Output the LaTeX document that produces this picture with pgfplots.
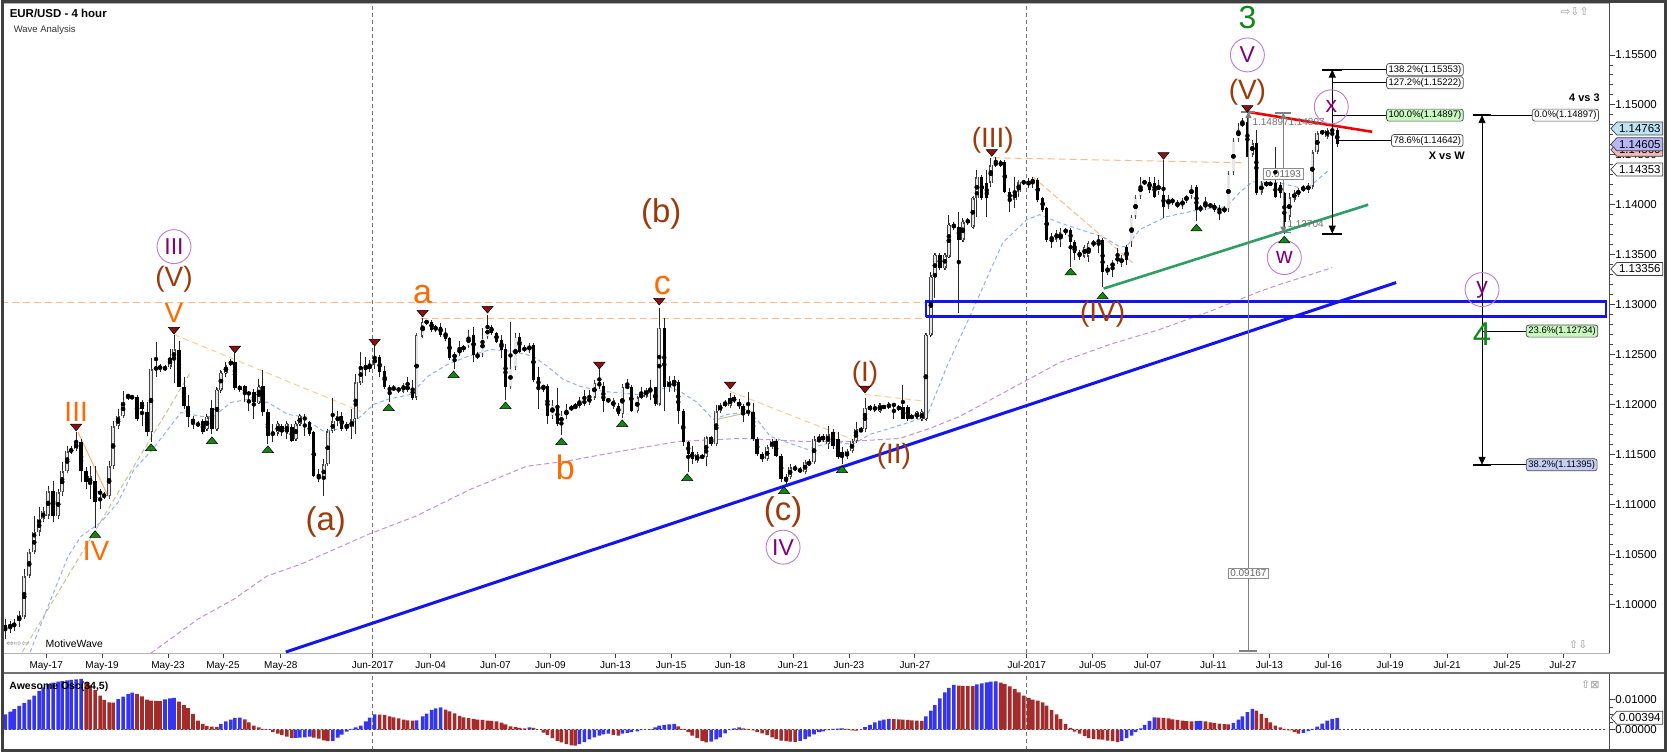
\documentclass[border=0pt]{standalone}
\usepackage{pgfplots}
\pgfplotsset{compat=1.18}
\usepackage{pgfplotstable}
\usepackage{fontspec}
\setmainfont{Liberation Sans}
\newfontfamily\symfont{DejaVu Sans}
\usetikzlibrary{arrows.meta}

\definecolor{wvorange}{HTML}{FF6A00}
\definecolor{wvbrown}{HTML}{9C3A0A}
\definecolor{wvpurple}{HTML}{800080}
\definecolor{wvcircle}{HTML}{C07ACF}
\definecolor{wvgreen}{HTML}{12881A}
\definecolor{maBlue}{HTML}{8FB0F5}
\definecolor{maPurple}{HTML}{C890D5}
\definecolor{peach}{HTML}{FFB98A}
\definecolor{peachlt}{HTML}{FFCB95}
\definecolor{khaki}{HTML}{C8C38E}
\definecolor{tline}{HTML}{1414F0}
\definecolor{gline}{HTML}{2E9E62}
\definecolor{oscBlue}{HTML}{3535F0}
\definecolor{oscRed}{HTML}{A52A2A}
\definecolor{tagBlue}{HTML}{BFE3F2}
\definecolor{tagLav}{HTML}{B7B7F7}
\definecolor{tagPink}{HTML}{F4B8B8}
\definecolor{fibGreen}{HTML}{C8F7C0}
\definecolor{fibBlue}{HTML}{C5CFF5}
\definecolor{bullEdge}{HTML}{454545}
\definecolor{bullFill}{HTML}{E6E6E6}
\definecolor{triGreen}{HTML}{118811}
\definecolor{triRed}{HTML}{8B1010}

\pgfplotstableread{
x o h l c
4 1.0979 1.0985 1.0965 1.0973
9 1.0977 1.0983 1.0971 1.0979
13 1.0979 1.0985 1.0973 1.0980
18 1.0983 1.0993 1.0977 1.0989
23 1.0987 1.1035 1.0985 1.1028
28 1.1028 1.1055 1.1027 1.1052
33 1.1052 1.1088 1.1050 1.1072
38 1.1072 1.1097 1.1068 1.1085
42 1.1085 1.1097 1.1082 1.1093
47 1.1088 1.1118 1.1085 1.1113
52 1.1113 1.1123 1.1082 1.1088
57 1.1088 1.1115 1.1085 1.1112
61 1.1112 1.1142 1.1108 1.1133
66 1.1133 1.1158 1.1132 1.1153
70 1.1153 1.1158 1.1150 1.1155
75 1.1155 1.1172 1.1153 1.1162
80 1.1162 1.1165 1.1122 1.1133
85 1.1133 1.1137 1.1115 1.1122
89 1.1120 1.1138 1.1105 1.1128
94 1.1123 1.1138 1.1076 1.1102
99 1.1113 1.1115 1.1095 1.1110
103 1.1110 1.1112 1.1105 1.1108
108 1.1108 1.1143 1.1105 1.1138
112 1.1138 1.1183 1.1135 1.1178
117 1.1178 1.1195 1.1175 1.1188
122 1.1188 1.1213 1.1187 1.1203
127 1.1208 1.1210 1.1205 1.1209
131 1.1207 1.1209 1.1205 1.1208
136 1.1207 1.1209 1.1183 1.1185
141 1.1203 1.1205 1.1178 1.1195
146 1.1192 1.1202 1.1168 1.1172
150 1.1172 1.1247 1.1162 1.1235
155 1.1235 1.1263 1.1228 1.1237
159 1.1236 1.1241 1.1233 1.1238
164 1.1236 1.1239 1.1233 1.1237
169 1.1238 1.1255 1.1235 1.1247
173 1.1245 1.1270 1.1222 1.1255
178 1.1255 1.1263 1.1217 1.1218
183 1.1218 1.1228 1.1195 1.1198
187 1.1198 1.1210 1.1177 1.1187
192 1.1185 1.1188 1.1175 1.1182
197 1.1181 1.1183 1.1177 1.1179
202 1.1183 1.1185 1.1170 1.1172
206 1.1175 1.1190 1.1173 1.1187
211 1.1197 1.1205 1.1170 1.1175
216 1.1175 1.1218 1.1173 1.1215
220 1.1215 1.1235 1.1212 1.1232
225 1.1232 1.1243 1.1228 1.1238
230 1.1243 1.1245 1.1238 1.1240
234 1.1243 1.1252 1.1215 1.1217
239 1.1218 1.1220 1.1213 1.1215
244 1.1218 1.1220 1.1203 1.1210
248 1.1212 1.1213 1.1193 1.1210
253 1.1212 1.1215 1.1185 1.1202
258 1.1202 1.1225 1.1200 1.1218
262 1.1218 1.1235 1.1188 1.1192
267 1.1192 1.1195 1.1160 1.1168
272 1.1172 1.1180 1.1162 1.1169
277 1.1172 1.1183 1.1168 1.1180
281 1.1178 1.1180 1.1168 1.1172
286 1.1172 1.1183 1.1165 1.1180
291 1.1177 1.1180 1.1162 1.1163
295 1.1165 1.1183 1.1163 1.1180
299 1.1180 1.1190 1.1178 1.1188
304 1.1187 1.1190 1.1168 1.1185
309 1.1182 1.1183 1.1168 1.1170
313 1.1172 1.1173 1.1127 1.1128
318 1.1129 1.1135 1.1122 1.1125
323 1.1125 1.1145 1.1108 1.1140
327 1.1140 1.1175 1.1138 1.1173
332 1.1173 1.1207 1.1172 1.1183
337 1.1183 1.1193 1.1178 1.1188
341 1.1188 1.1192 1.1173 1.1175
346 1.1177 1.1182 1.1173 1.1180
351 1.1177 1.1195 1.1165 1.1185
355 1.1185 1.1230 1.1170 1.1222
360 1.1222 1.1253 1.1220 1.1238
365 1.1238 1.1247 1.1228 1.1235
369 1.1235 1.1245 1.1233 1.1240
374 1.1240 1.1258 1.1235 1.1247
379 1.1247 1.1250 1.1228 1.1232
384 1.1233 1.1238 1.1215 1.1217
389 1.1218 1.1220 1.1203 1.1213
393 1.1217 1.1219 1.1213 1.1215
398 1.1216 1.1218 1.1212 1.1214
403 1.1213 1.1222 1.1212 1.1220
407 1.1215 1.1228 1.1213 1.1218
412 1.1217 1.1225 1.1205 1.1207
416 1.1207 1.1272 1.1205 1.1270
422 1.1268 1.1287 1.1267 1.1283
426 1.1283 1.1285 1.1280 1.1282
431 1.1283 1.1285 1.1273 1.1275
435 1.1277 1.1280 1.1273 1.1275
440 1.1278 1.1282 1.1268 1.1270
445 1.1272 1.1277 1.1263 1.1265
449 1.1267 1.1268 1.1245 1.1247
454 1.1247 1.1253 1.1236 1.1250
459 1.1250 1.1263 1.1248 1.1257
463 1.1255 1.1260 1.1253 1.1258
468 1.1258 1.1275 1.1257 1.1270
473 1.1270 1.1278 1.1243 1.1250
477 1.1250 1.1252 1.1245 1.1248
482 1.1250 1.1277 1.1248 1.1267
487 1.1267 1.1290 1.1265 1.1278
491 1.1278 1.1280 1.1270 1.1272
496 1.1272 1.1273 1.1262 1.1263
501 1.1265 1.1270 1.1247 1.1255
505 1.1255 1.1260 1.1204 1.1217
510 1.1217 1.1283 1.1215 1.1237
515 1.1237 1.1272 1.1235 1.1268
519 1.1268 1.1272 1.1252 1.1253
524 1.1257 1.1259 1.1252 1.1254
529 1.1253 1.1262 1.1252 1.1260
533 1.1260 1.1262 1.1223 1.1225
538 1.1227 1.1238 1.1195 1.1217
543 1.1218 1.1220 1.1213 1.1217
547 1.1218 1.1220 1.1180 1.1188
552 1.1188 1.1205 1.1185 1.1200
557 1.1200 1.1217 1.1178 1.1180
561 1.1180 1.1193 1.1169 1.1190
566 1.1188 1.1200 1.1185 1.1195
571 1.1197 1.1200 1.1193 1.1195
575 1.1198 1.1202 1.1195 1.1197
579 1.1198 1.1207 1.1197 1.1203
584 1.1203 1.1215 1.1198 1.1202
589 1.1202 1.1215 1.1200 1.1207
594 1.1207 1.1225 1.1205 1.1222
599 1.1222 1.1235 1.1215 1.1218
603 1.1218 1.1222 1.1192 1.1203
608 1.1205 1.1207 1.1202 1.1203
613 1.1197 1.1207 1.1195 1.1205
618 1.1198 1.1202 1.1188 1.1190
622 1.1190 1.1220 1.1186 1.1218
627 1.1218 1.1225 1.1215 1.1217
631 1.1218 1.1220 1.1192 1.1193
637 1.1193 1.1209 1.1192 1.1207
641 1.1207 1.1217 1.1205 1.1210
646 1.1208 1.1217 1.1207 1.1215
650 1.1213 1.1225 1.1205 1.1215
655 1.1217 1.1218 1.1198 1.1200
659 1.1200 1.1297 1.1198 1.1277
664 1.1277 1.1287 1.1193 1.1217
669 1.1217 1.1228 1.1212 1.1223
674 1.1220 1.1228 1.1212 1.1225
678 1.1223 1.1225 1.1180 1.1193
683 1.1193 1.1195 1.1158 1.1162
688 1.1162 1.1163 1.1132 1.1150
692 1.1152 1.1158 1.1140 1.1145
697 1.1143 1.1152 1.1142 1.1150
702 1.1148 1.1150 1.1145 1.1147
706 1.1147 1.1168 1.1138 1.1167
711 1.1167 1.1168 1.1158 1.1160
716 1.1160 1.1200 1.1158 1.1193
720 1.1193 1.1202 1.1192 1.1200
725 1.1202 1.1205 1.1197 1.1199
730 1.1198 1.1212 1.1197 1.1207
734 1.1207 1.1209 1.1201 1.1203
739 1.1203 1.1205 1.1195 1.1198
743 1.1198 1.1200 1.1182 1.1192
748 1.1193 1.1213 1.1188 1.1192
753 1.1192 1.1202 1.1163 1.1165
757 1.1165 1.1167 1.1148 1.1150
762 1.1150 1.1152 1.1142 1.1145
767 1.1145 1.1159 1.1143 1.1157
772 1.1157 1.1165 1.1156 1.1163
776 1.1163 1.1165 1.1147 1.1148
781 1.1148 1.1150 1.1122 1.1125
786 1.1127 1.1130 1.1119 1.1124
790 1.1127 1.1140 1.1125 1.1137
795 1.1137 1.1139 1.1133 1.1135
800 1.1135 1.1137 1.1131 1.1133
805 1.1132 1.1144 1.1131 1.1142
809 1.1140 1.1145 1.1138 1.1142
814 1.1142 1.1168 1.1140 1.1165
819 1.1165 1.1170 1.1162 1.1163
823 1.1165 1.1170 1.1162 1.1168
828 1.1160 1.1178 1.1155 1.1170
833 1.1172 1.1175 1.1155 1.1158
838 1.1165 1.1172 1.1145 1.1147
842 1.1152 1.1157 1.1140 1.1147
847 1.1148 1.1155 1.1145 1.1153
852 1.1153 1.1165 1.1152 1.1163
856 1.1163 1.1182 1.1162 1.1175
861 1.1175 1.1177 1.1172 1.1173
865 1.1175 1.1207 1.1172 1.1197
870 1.1198 1.1200 1.1193 1.1195
875 1.1197 1.1200 1.1192 1.1195
880 1.1193 1.1202 1.1192 1.1200
884 1.1198 1.1200 1.1195 1.1197
889 1.1200 1.1203 1.1195 1.1197
894 1.1200 1.1202 1.1185 1.1199
899 1.1197 1.1200 1.1193 1.1196
903 1.1198 1.1220 1.1185 1.1185
908 1.1197 1.1200 1.1183 1.1185
912 1.1188 1.1190 1.1185 1.1187
917 1.1187 1.1193 1.1185 1.1192
922 1.1185 1.1195 1.1183 1.1192
926 1.1185 1.1272 1.1184 1.1270
931 1.1270 1.1333 1.1268 1.1328
935 1.1328 1.1352 1.1307 1.1350
940 1.1350 1.1352 1.1335 1.1337
945 1.1337 1.1352 1.1335 1.1350
949 1.1348 1.1390 1.1347 1.1380
954 1.1380 1.1383 1.1375 1.1377
959 1.1378 1.1393 1.1292 1.1365
963 1.1365 1.1387 1.1363 1.1383
968 1.1385 1.1387 1.1380 1.1382
973 1.1378 1.1408 1.1377 1.1407
977 1.1407 1.1435 1.1388 1.1428
982 1.1428 1.1430 1.1405 1.1407
987 1.1422 1.1435 1.1388 1.1407
991 1.1422 1.1447 1.1418 1.1440
996 1.1442 1.1448 1.1438 1.1440
1001 1.1442 1.1445 1.1438 1.1440
1005 1.1443 1.1445 1.1412 1.1413
1010 1.1413 1.1417 1.1393 1.1405
1015 1.1405 1.1428 1.1397 1.1413
1019 1.1413 1.1425 1.1408 1.1423
1024 1.1423 1.1425 1.1420 1.1422
1029 1.1423 1.1427 1.1417 1.1420
1033 1.1422 1.1428 1.1417 1.1425
1038 1.1425 1.1427 1.1403 1.1405
1043 1.1407 1.1408 1.1393 1.1395
1047 1.1397 1.1398 1.1363 1.1365
1052 1.1368 1.1372 1.1357 1.1365
1057 1.1365 1.1375 1.1363 1.1372
1061 1.1365 1.1377 1.1358 1.1373
1066 1.1375 1.1377 1.1370 1.1373
1071 1.1375 1.1377 1.1338 1.1363
1075 1.1363 1.1365 1.1345 1.1352
1080 1.1353 1.1355 1.1345 1.1348
1085 1.1348 1.1360 1.1347 1.1358
1089 1.1348 1.1363 1.1343 1.1362
1094 1.1362 1.1365 1.1358 1.1360
1099 1.1365 1.1370 1.1352 1.1362
1103 1.1365 1.1367 1.1318 1.1333
1108 1.1332 1.1340 1.1330 1.1337
1113 1.1337 1.1345 1.1328 1.1343
1118 1.1343 1.1357 1.1342 1.1348
1122 1.1340 1.1350 1.1338 1.1348
1127 1.1358 1.1360 1.1340 1.1345
1132 1.1362 1.1390 1.1358 1.1388
1136 1.1388 1.1410 1.1387 1.1408
1141 1.1408 1.1428 1.1407 1.1422
1145 1.1423 1.1425 1.1420 1.1422
1150 1.1423 1.1428 1.1412 1.1415
1155 1.1422 1.1428 1.1407 1.1408
1159 1.1412 1.1425 1.1410 1.1422
1164 1.1410 1.1445 1.1387 1.1398
1169 1.1398 1.1410 1.1397 1.1407
1173 1.1405 1.1407 1.1400 1.1403
1178 1.1398 1.1405 1.1397 1.1402
1183 1.1398 1.1407 1.1397 1.1405
1187 1.1405 1.1410 1.1402 1.1408
1192 1.1408 1.1420 1.1407 1.1418
1197 1.1418 1.1420 1.1384 1.1395
1201 1.1397 1.1400 1.1393 1.1395
1206 1.1397 1.1408 1.1395 1.1402
1211 1.1400 1.1402 1.1397 1.1398
1215 1.1400 1.1402 1.1393 1.1395
1220 1.1397 1.1400 1.1385 1.1393
1225 1.1393 1.1398 1.1392 1.1397
1229 1.1395 1.1433 1.1393 1.1432
1234 1.1432 1.1467 1.1430 1.1465
1239 1.1465 1.1482 1.1463 1.1477
1243 1.1480 1.1487 1.1478 1.1482
1248 1.1483 1.1490 1.1448 1.1448
1253 1.1450 1.1465 1.1448 1.1462
1257 1.1462 1.1475 1.1410 1.1412
1262 1.1412 1.1423 1.1410 1.1422
1267 1.1420 1.1424 1.1418 1.1422
1271 1.1422 1.1423 1.1419 1.1420
1276 1.1422 1.1458 1.1407 1.1408
1281 1.1420 1.1423 1.1407 1.1412
1285 1.1412 1.1413 1.1371 1.1383
1290 1.1388 1.1412 1.1385 1.1408
1295 1.1405 1.1415 1.1403 1.1413
1299 1.1410 1.1417 1.1408 1.1415
1304 1.1415 1.1420 1.1413 1.1417
1309 1.1415 1.1422 1.1412 1.1419
1313 1.1418 1.1455 1.1417 1.1453
1318 1.1453 1.1474 1.1451 1.1472
1323 1.1472 1.1475 1.1470 1.1473
1328 1.1468 1.1477 1.1467 1.1475
1333 1.1474 1.1477 1.1465 1.1475
1338 1.1475 1.1477 1.1458 1.1461
}\candles

\pgfplotstableread{
x v u
4 0.0051 1
9 0.0060 1
13 0.0068 1
18 0.0079 1
23 0.0089 1
28 0.0100 1
33 0.0113 1
38 0.0129 1
42 0.0141 1
47 0.0151 1
52 0.0157 1
57 0.0160 1
61 0.0162 1
66 0.0164 1
70 0.0166 1
75 0.0168 1
80 0.0169 1
85 0.0158 0
89 0.0149 0
94 0.0133 0
99 0.0113 0
103 0.0099 0
108 0.0091 0
112 0.0090 0
117 0.0102 1
122 0.0110 1
127 0.0118 1
131 0.0123 1
136 0.0119 0
141 0.0111 0
146 0.0100 0
150 0.0097 0
155 0.0096 0
159 0.0095 0
164 0.0101 1
169 0.0104 1
173 0.0106 1
178 0.0093 0
183 0.0082 0
187 0.0072 0
192 0.0052 0
197 0.0030 0
202 0.0019 0
206 0.0012 0
211 0.0010 0
216 0.0009 0
220 0.0019 1
225 0.0027 1
230 0.0033 1
234 0.0039 1
239 0.0040 1
244 0.0034 0
248 0.0024 0
253 0.0013 0
258 0.0007 0
262 0.0002 0
267 -0.0001 0
272 -0.0009 0
277 -0.0014 0
281 -0.0019 0
286 -0.0024 0
291 -0.0029 0
295 -0.0028 1
299 -0.0027 1
304 -0.0026 1
309 -0.0024 1
313 -0.0027 0
318 -0.0030 0
323 -0.0036 0
327 -0.0039 0
332 -0.0038 1
337 -0.0027 1
341 -0.0017 1
346 -0.0007 1
351 0.0002 1
355 0.0007 1
360 0.0013 1
365 0.0027 1
369 0.0040 1
374 0.0051 1
379 0.0050 0
384 0.0049 0
389 0.0044 0
393 0.0041 0
398 0.0037 0
403 0.0033 0
407 0.0031 0
412 0.0030 0
416 0.0031 1
422 0.0044 1
426 0.0053 1
431 0.0066 1
435 0.0071 1
440 0.0074 1
445 0.0067 0
449 0.0061 0
454 0.0054 0
459 0.0046 0
463 0.0041 0
468 0.0038 0
473 0.0036 0
477 0.0033 0
482 0.0032 0
487 0.0030 0
491 0.0029 0
496 0.0027 0
501 0.0023 0
505 0.0017 0
510 0.0011 0
515 0.0008 0
519 0.0006 0
524 0.0004 0
529 0.0007 1
533 0.0006 0
538 0.0000 0
543 -0.0010 0
547 -0.0018 0
552 -0.0029 0
557 -0.0038 0
561 -0.0043 0
566 -0.0049 0
571 -0.0053 0
575 -0.0054 0
579 -0.0049 1
584 -0.0042 1
589 -0.0033 1
594 -0.0026 1
599 -0.0020 1
603 -0.0016 1
608 -0.0014 1
613 -0.0018 0
618 -0.0020 0
622 -0.0014 1
627 -0.0011 1
631 -0.0009 1
637 -0.0006 1
641 -0.0002 1
646 0.0000 1
650 0.0001 1
655 0.0007 1
659 0.0013 1
664 0.0016 1
669 0.0017 1
674 0.0019 1
678 0.0011 0
683 0.0002 0
688 -0.0009 0
692 -0.0020 0
697 -0.0029 0
702 -0.0038 0
706 -0.0043 0
711 -0.0040 1
716 -0.0033 1
720 -0.0026 1
725 -0.0013 1
730 -0.0002 1
734 0.0004 1
739 0.0007 1
743 0.0004 0
748 0.0002 0
753 -0.0003 0
757 -0.0009 0
762 -0.0013 0
767 -0.0019 0
772 -0.0026 0
776 -0.0032 0
781 -0.0037 0
786 -0.0039 0
790 -0.0040 0
795 -0.0041 0
800 -0.0038 1
805 -0.0032 1
809 -0.0024 1
814 -0.0016 1
819 -0.0009 1
823 -0.0006 1
828 -0.0002 1
833 0.0002 1
838 0.0003 1
842 0.0004 1
847 0.0002 0
852 -0.0003 0
856 -0.0004 0
861 0.0000 1
865 0.0008 1
870 0.0016 1
875 0.0024 1
880 0.0030 1
884 0.0033 1
889 0.0036 1
894 0.0035 0
899 0.0034 0
903 0.0033 0
908 0.0032 0
912 0.0031 0
917 0.0030 0
922 0.0029 0
926 0.0044 1
931 0.0063 1
935 0.0082 1
940 0.0104 1
945 0.0124 1
949 0.0139 1
954 0.0149 1
959 0.0147 0
963 0.0146 0
968 0.0146 0
973 0.0145 0
977 0.0151 1
982 0.0154 1
987 0.0158 1
991 0.0160 1
996 0.0161 1
1001 0.0157 0
1005 0.0152 0
1010 0.0144 0
1015 0.0136 0
1019 0.0124 0
1024 0.0113 0
1029 0.0106 0
1033 0.0100 0
1038 0.0097 0
1043 0.0091 0
1047 0.0080 0
1052 0.0066 0
1057 0.0051 0
1061 0.0036 0
1066 0.0019 0
1071 0.0006 0
1075 -0.0007 0
1080 -0.0014 0
1085 -0.0022 0
1089 -0.0029 0
1094 -0.0032 0
1099 -0.0033 0
1103 -0.0034 0
1108 -0.0037 0
1113 -0.0039 0
1118 -0.0042 0
1122 -0.0038 1
1127 -0.0029 1
1132 -0.0020 1
1136 -0.0009 1
1141 0.0004 1
1145 0.0016 1
1150 0.0029 1
1155 0.0041 1
1159 0.0040 0
1164 0.0039 0
1169 0.0037 0
1173 0.0034 0
1178 0.0032 0
1183 0.0030 0
1187 0.0028 0
1192 0.0027 0
1197 0.0028 1
1201 0.0029 1
1206 0.0027 0
1211 0.0024 0
1215 0.0022 0
1220 0.0020 0
1225 0.0018 0
1229 0.0017 0
1234 0.0022 1
1239 0.0033 1
1243 0.0044 1
1248 0.0058 1
1253 0.0069 1
1257 0.0063 0
1262 0.0052 0
1267 0.0038 0
1271 0.0024 0
1276 0.0013 0
1281 0.0007 0
1285 0.0002 0
1290 -0.0003 0
1295 -0.0009 0
1299 -0.0014 0
1304 -0.0011 1
1309 -0.0005 1
1313 0.0002 1
1318 0.0010 1
1323 0.0020 1
1328 0.0030 1
1333 0.0036 1
1338 0.0039 1
}\osc

\newcommand\fs[1]{\fontsize{#1}{#1}\selectfont}

\tikzset{
  wl/.style={inner sep=0pt},
  circ/.style={circle, draw=wvcircle, line width=0.9pt, minimum size=34pt, inner sep=0pt, text=wvpurple, font=\fs{23}},
  fib/.style={draw=black!70, line width=0.7pt, rounded corners=2.5pt, inner xsep=2pt, inner ysep=1.6pt, font=\fs{9.5}, anchor=west},
  mbox/.style={draw=black!45, fill=white, line width=0.7pt, inner xsep=2pt, inner ysep=1.6pt, font=\fs{10}, text=black!60},
}

\newcommand\ptag[3]{%
  \draw[draw=black!75, line width=0.7pt, fill=#2] (axis cs:1612,#1) -- ++(6pt,6.5pt) -- ++(46pt,0pt) -- ++(0pt,-13pt) -- ++(-46pt,0pt) -- cycle;
  \node[font=\fs{11.5}, anchor=west, inner sep=0pt] at ([xshift=8pt]axis cs:1612,#1) {#3};}

\begin{document}
\begin{tikzpicture}
\path[fill=white] (0pt,0pt) rectangle (1668pt,-753pt);

% ================= PRICE PANEL =================
\begin{axis}[
  at={(0pt,-654pt)}, anchor=south west, scale only axis,
  width=1611pt, height=651pt,
  xmin=0, xmax=1611, ymin=1.0951, ymax=1.1602,
  clip=false,
  axis line style={draw=black!30, line width=0.8pt},
  tick align=outside, xtick pos=left, ytick pos=right, yticklabel pos=right,
  major tick length=5pt, minor tick length=3pt,
  tick style={black!75, line width=0.8pt},
  scaled y ticks=false,
  xtick={45,101,167,222,280,372,430,495,550,615,671,730,793,849,915,1027,1093,1148,1214,1270,1329,1391,1448,1508,1564},
  xticklabels={May-17,May-19,May-23,May-25,May-28,Jun-2017,Jun-04,Jun-07,Jun-09,Jun-13,Jun-15,Jun-18,Jun-21,Jun-23,Jun-27,Jul-2017,Jul-05,Jul-07,Jul-11,Jul-13,Jul-16,Jul-19,Jul-21,Jul-25,Jul-27},
  ytick={1.100,1.105,1.110,1.115,1.120,1.125,1.130,1.135,1.140,1.145,1.150,1.155},
  yticklabels={1.10000,1.10500,1.11000,1.11500,1.12000,1.12500,1.13000,1.13500,1.14000,1.14500,1.15000,1.15500},
  minor y tick num=4,
  x tick label style={font=\fs{10}},
  y tick label style={font=\fs{11.5}, xshift=-3pt},
]
% month separators
\addplot[black!55, line width=0.9pt, dash pattern=on 4pt off 3pt] coordinates {(372,1.0951) (372,1.1602)};
\addplot[black!55, line width=0.9pt, dash pattern=on 4pt off 3pt] coordinates {(1027,1.0951) (1027,1.1602)};

% orange / peach dashed structure lines
\addplot[peach, line width=1.1pt, dash pattern=on 7pt off 4pt] coordinates {(0,1.1302) (926,1.1302)};
\addplot[peach, line width=1.1pt, dash pattern=on 7pt off 4pt] coordinates {(420,1.1286) (926,1.1286)};
\addplot[peachlt, line width=1pt, dash pattern=on 6pt off 4pt] coordinates {(173,1.1270) (360,1.1193)};
\addplot[peach!80!orange, line width=1pt] coordinates {(77,1.1172) (107,1.1108)};
\addplot[peachlt, line width=1pt, dash pattern=on 6pt off 4pt] coordinates {(730,1.1213) (860,1.1162)};
\addplot[peachlt, line width=1pt, dash pattern=on 6pt off 4pt] coordinates {(865,1.1210) (927,1.1203)};
\addplot[peach, line width=1pt, dash pattern=on 7pt off 4pt] coordinates {(993,1.1447) (1242,1.1442)};
\addplot[peach, line width=1pt, dash pattern=on 6pt off 3pt] coordinates {(1033,1.1428) (1133,1.1342)};
\addplot[khaki, line width=1pt] coordinates {(717,1.1185) (753,1.1193)};
\addplot[khaki, line width=1pt, dash pattern=on 5pt off 3pt] coordinates {(21,1.0952) (190,1.1233)};

% moving averages
\addplot[maBlue, line width=1pt, dash pattern=on 4pt off 3pt] coordinates {
(29,1.0952) (43,1.0988) (67,1.1048) (80,1.1068) (100,1.1082) (117,1.1102) (133,1.1135) (150,1.1153) (167,1.1175) (180,1.1192) (200,1.1188) (213,1.1188) (230,1.1202) (247,1.1205) (267,1.1202) (287,1.1190) (300,1.1188) (323,1.1173) (347,1.1177) (360,1.1188) (373,1.1200) (387,1.1205) (410,1.1210) (427,1.1228) (447,1.1240) (467,1.1248) (490,1.1255) (513,1.1253) (533,1.1248) (547,1.1238) (563,1.1225) (580,1.1218) (603,1.1213) (637,1.1210) (657,1.1215) (670,1.1217) (680,1.1213) (697,1.1202) (713,1.1185) (727,1.1190) (747,1.1192) (757,1.1185) (770,1.1168) (787,1.1162) (807,1.1155) (823,1.1160) (837,1.1162) (853,1.1160) (870,1.1170) (880,1.1173) (903,1.1180) (927,1.1188) (947,1.1238) (970,1.1288) (1003,1.1362) (1027,1.1385) (1040,1.1390) (1060,1.1382) (1087,1.1373) (1103,1.1368) (1120,1.1358) (1127,1.1358) (1140,1.1375) (1167,1.1388) (1200,1.1395) (1227,1.1398) (1240,1.1412) (1253,1.1423) (1280,1.1422) (1300,1.1417) (1310,1.1418) (1330,1.1435)};
\addplot[maPurple, line width=1pt, dash pattern=on 5pt off 3pt] coordinates {
(150,1.0951) (197,1.0985) (233,1.1005) (266,1.1028) (300,1.1040) (368,1.1070) (415,1.1088) (470,1.1115) (526,1.1138) (565,1.1143) (620,1.1153) (679,1.1163) (742,1.1166) (801,1.1163) (852,1.1163) (900,1.1166) (930,1.1176) (960,1.1188) (1010,1.1215) (1060,1.1242) (1110,1.1260) (1160,1.1275) (1210,1.1293) (1260,1.1313) (1280,1.1320) (1333,1.1337)};

% ---- candles ----
\addplot[only marks, mark=none, forget plot,
  error bars/.cd, y dir=both, y explicit, error mark=none,
  error bar style={line width=0.9pt, draw=black!85}]
  table[x=x, y expr={(\thisrow{h}+\thisrow{l})/2}, y error expr={(\thisrow{h}-\thisrow{l})/2}] {\candles};
\addplot[only marks, mark=none, forget plot,
  restrict expr to domain={\thisrow{o}-\thisrow{c}}{0:1},
  error bars/.cd, y dir=both, y explicit, error mark=none,
  error bar style={line width=3.4pt, draw=black}]
  table[x=x, y expr={(\thisrow{o}+\thisrow{c})/2}, y error expr={max(abs(\thisrow{o}-\thisrow{c})/2,0.00007)}] {\candles};
\addplot[only marks, mark=none, forget plot,
  restrict expr to domain={\thisrow{c}-\thisrow{o}}{0:1},
  error bars/.cd, y dir=both, y explicit, error mark=none,
  error bar style={line width=3.6pt, draw=bullEdge}]
  table[x=x, y expr={(\thisrow{o}+\thisrow{c})/2}, y error expr={max(abs(\thisrow{o}-\thisrow{c})/2,0.00007)}] {\candles};
\addplot[only marks, mark=none, forget plot,
  restrict expr to domain={\thisrow{c}-\thisrow{o}}{0.00015:1},
  error bars/.cd, y dir=both, y explicit, error mark=-,
  error mark options={draw=bullEdge, line width=0.6pt, mark size=1.8pt},
  error bar style={line width=2.2pt, draw=bullFill}]
  table[x=x, y expr={(\thisrow{o}+\thisrow{c})/2}, y error expr={abs(\thisrow{o}-\thisrow{c})/2}] {\candles};

% swing markers
\addplot[only marks, mark=triangle*, mark size=4.5pt, mark options={xscale=1.45, fill=triGreen, draw=black, line width=0.5pt}] coordinates {
(94,1.1069) (150,1.1156) (211,1.1163) (267,1.1154) (388,1.1196) (453,1.1229) (505,1.1198) (561,1.1162) (622,1.1180) (687,1.1126) (784,1.1113) (842,1.1134) (1071,1.1332) (1103,1.1308) (1197,1.1376) (1285,1.1364)};
\addplot[only marks, mark=triangle*, mark size=4.5pt, mark options={rotate=180, xscale=1.45, fill=triRed, draw=black, line width=0.5pt}] coordinates {
(75,1.1178) (173,1.1275) (234,1.1256) (374,1.1263) (422,1.1292) (487,1.1296) (599,1.1240) (659,1.1304) (730,1.1220) (865,1.1216) (992,1.1453) (1164,1.1450) (1248,1.1497)};

% trend lines
\addplot[tline, line width=3pt] coordinates {(285,1.0952) (1397,1.1322)};
\addplot[gline, line width=2.6pt] coordinates {(1104,1.1316) (1369,1.1400)};
\addplot[red!95!black, line width=2.6pt] coordinates {(1248,1.1493) (1373,1.1473)};
\addplot[tline, line width=2.4pt] coordinates {(926,1.1288) (1607,1.1288) (1607,1.1303) (926,1.1303) (926,1.1288)};

% measure tools (gray)
\draw[black!50, line width=1pt, {Triangle[width=6pt,length=6pt]}-] (axis cs:1249,1.1493) -- (axis cs:1249,1.0953);
\draw[black!50, line width=1.6pt] (axis cs:1242,1.1493) -- (axis cs:1256,1.1493);
\draw[black!50, line width=1.6pt] (axis cs:1240,1.0953) -- (axis cs:1258,1.0953);
\draw[black!50, line width=1pt, {Triangle[width=6pt,length=6pt]}-{Triangle[width=6pt,length=6pt]}] (axis cs:1284,1.1492) -- (axis cs:1284,1.1372);
\draw[black!50, line width=1.6pt] (axis cs:1276,1.1492) -- (axis cs:1292,1.1492);
\draw[black!50, line width=1.6pt] (axis cs:1276,1.1372) -- (axis cs:1292,1.1372);
\node[anchor=west, font=\fs{10}, text=black!55, inner sep=0pt] at (axis cs:1253,1.1483) {1.14897};
\node[anchor=west, font=\fs{10}, text=black!55, inner sep=0pt] at (axis cs:1289,1.1483) {1.14897};
\node[anchor=west, font=\fs{10}, text=black!55, inner sep=0pt] at (axis cs:1288,1.1381) {1.13704};
\node[mbox] at (axis cs:1284,1.1431) {0.01193};
\node[mbox] at (axis cs:1249,1.1031) {0.09167};

% Fibonacci tool X vs W
\draw[black, line width=0.8pt, {Triangle[width=7pt,length=8pt]}-{Triangle[width=7pt,length=8pt]}] (axis cs:1333,1.15353) -- (axis cs:1333,1.1371);
\draw[black, line width=2pt] (axis cs:1323,1.15353) -- (axis cs:1343,1.15353);
\draw[black, line width=2pt] (axis cs:1323,1.1371) -- (axis cs:1343,1.1371);
\draw[black, line width=0.8pt] (axis cs:1333,1.15353) -- (axis cs:1387,1.15353);
\draw[black, line width=0.8pt] (axis cs:1333,1.15222) -- (axis cs:1387,1.15222);
\draw[black, line width=0.8pt] (axis cs:1333,1.14897) -- (axis cs:1387,1.14897);
\draw[black, line width=0.8pt] (axis cs:1338,1.14642) -- (axis cs:1392,1.14642);
\node[fib, fill=white] at (axis cs:1387,1.15353) {138.2\%(1.15353)};
\node[fib, fill=white] at (axis cs:1387,1.15222) {127.2\%(1.15222)};
\node[fib, fill=fibGreen] at (axis cs:1387,1.14897) {100.0\%(1.14897)};
\node[fib, fill=white] at (axis cs:1392,1.14642) {78.6\%(1.14642)};
\node[anchor=east, font=\bfseries\fs{11}, inner sep=0pt] at (axis cs:1466,1.1449) {X vs W};

% Fibonacci tool 4 vs 3
\draw[black, line width=0.8pt, {Triangle[width=7pt,length=8pt]}-{Triangle[width=7pt,length=8pt]}] (axis cs:1483,1.14897) -- (axis cs:1483,1.11395);
\draw[black, line width=2pt] (axis cs:1474,1.14897) -- (axis cs:1492,1.14897);
\draw[black, line width=2pt] (axis cs:1474,1.11395) -- (axis cs:1492,1.11395);
\draw[black, line width=0.8pt] (axis cs:1483,1.14897) -- (axis cs:1533,1.14897);
\draw[black, line width=0.8pt] (axis cs:1483,1.12734) -- (axis cs:1527,1.12734);
\draw[black, line width=0.8pt] (axis cs:1483,1.11395) -- (axis cs:1527,1.11395);
\node[fib, fill=white] at (axis cs:1533,1.14897) {0.0\%(1.14897)};
\node[fib, fill=fibGreen] at (axis cs:1527,1.12734) {23.6\%(1.12734)};
\node[fib, fill=fibBlue] at (axis cs:1527,1.11395) {38.2\%(1.11395)};
\node[anchor=east, font=\bfseries\fs{11}, inner sep=0pt] at (axis cs:1601,1.1507) {4 vs 3};

% wave labels
\node[wl, text=wvorange, font=\fs{28}] at (axis cs:75,1.1193) {III};
\node[wl, text=wvorange, font=\fs{28}] at (axis cs:95,1.1053) {IV};
\node[wl, text=wvorange, font=\fs{28}] at (axis cs:173,1.1292) {V};
\node[wl, text=wvorange, font=\fs{34}] at (axis cs:422,1.1310) {a};
\node[wl, text=wvorange, font=\fs{34}] at (axis cs:565,1.1137) {b};
\node[wl, text=wvorange, font=\fs{34}] at (axis cs:662,1.1319) {c};
\node[wl, text=wvbrown, font=\fs{28}] at (axis cs:173,1.1325) {(V)};
\node[wl, text=wvbrown, font=\fs{28}] at (axis cs:865,1.1230) {(I)};
\node[wl, text=wvbrown, font=\fs{28}] at (axis cs:894,1.1148) {(II)};
\node[wl, text=wvbrown, font=\fs{28}] at (axis cs:993,1.1465) {(III)};
\node[wl, text=wvbrown, font=\fs{28}] at (axis cs:1103,1.1290) {(IV)};
\node[wl, text=wvbrown, font=\fs{28}] at (axis cs:1248,1.1513) {(V)};
\node[wl, text=wvbrown, font=\fs{33}] at (axis cs:325,1.1082) {(a)};
\node[wl, text=wvbrown, font=\fs{33}] at (axis cs:661,1.1391) {(b)};
\node[wl, text=wvbrown, font=\fs{33}] at (axis cs:783,1.1092) {(c)};
\node[circ] at (axis cs:173,1.1358) {III};
\node[circ] at (axis cs:783,1.1057) {IV};
\node[circ] at (axis cs:1248,1.1550) {V};
\node[circ] at (axis cs:1285,1.1347) {w};
\node[circ] at (axis cs:1332,1.1498) {x};
\node[circ] at (axis cs:1483,1.1315) {y};
\node[wl, text=wvgreen, font=\fs{32}] at (axis cs:1248,1.1587) {3};
\node[wl, text=wvgreen, font=\fs{33}] at (axis cs:1483,1.1270) {4};

% price tags on the axis
\ptag{1.14763}{tagBlue}{1.14763}
\ptag{1.1455}{tagPink}{1.14560}
\ptag{1.14605}{tagLav}{1.14605}
\ptag{1.14353}{white}{1.14353}
\ptag{1.13356}{white}{1.13356}
\end{axis}

% ================= OSCILLATOR PANEL =================
\begin{axis}[
  at={(0pt,-751pt)}, anchor=south west, scale only axis,
  width=1611pt, height=77pt,
  xmin=0, xmax=1611, ymin=-0.0068, ymax=0.0189,
  clip=false,
  axis line style={draw=black!30, line width=0.8pt},
  tick align=outside, ytick pos=right, yticklabel pos=right,
  major tick length=5pt, minor tick length=3pt,
  tick style={black!75, line width=0.8pt},
  scaled y ticks=false,
  xtick=\empty,
  ytick={0,0.01}, yticklabels={0.00000,0.01000},
  minor y tick num=3,
  y tick label style={font=\fs{11.5}, xshift=-3pt},
]
\addplot[black!55, line width=0.9pt, dash pattern=on 4pt off 3pt] coordinates {(372,-0.0068) (372,0.0189)};
\addplot[black!55, line width=0.9pt, dash pattern=on 4pt off 3pt] coordinates {(1027,-0.0068) (1027,0.0189)};
\addplot[black!70, line width=0.9pt, dash pattern=on 2pt off 2pt] coordinates {(0,0) (1608,0)};
\addplot[ybar, bar width=3.6pt, bar shift=0pt, fill=oscBlue, draw=none,
  restrict expr to domain={\thisrow{u}}{0.5:1.5}] table[x=x, y=v] {\osc};
\addplot[ybar, bar width=3.6pt, bar shift=0pt, fill=oscRed, draw=none,
  restrict expr to domain={\thisrow{u}}{-0.5:0.5}] table[x=x, y=v] {\osc};
\draw[draw=black!75, line width=0.7pt, fill=white] (axis cs:1612,0.00394) -- ++(6pt,6.5pt) -- ++(46pt,0pt) -- ++(0pt,-13pt) -- ++(-46pt,0pt) -- cycle;
\node[font=\fs{11.5}, anchor=west, inner sep=0pt] at ([xshift=8pt]axis cs:1612,0.00394) {0.00394};
\end{axis}

% ================= frame and texts =================
\draw[black!70, line width=0.8pt] (1611pt,-3pt) -- (1611pt,-654pt);
\draw[black!70, line width=0.8pt] (1611pt,-674pt) -- (1611pt,-751pt);
\draw[black!55, line width=2.5pt] (0pt,-674pt) -- (1668pt,-674pt);
\draw[black!75, line width=3pt] (1.5pt,-1.5pt) rectangle (1666.5pt,-751.5pt);

\node[anchor=west, font=\bfseries\fs{11.5}] at (5pt,-13pt) {EUR/USD - 4 hour};
\node[anchor=west, font=\fs{9.5}, text=black!80] at (9pt,-30pt) {Wave Analysis};
\node[anchor=west, font=\fs{10.5}] at (41pt,-645pt) {MotiveWave};
\node[anchor=west, font=\symfont\fs{9}, text=black!40, inner sep=0pt] at (5pt,-645pt) {⇔⇨⇦};
\node[anchor=west, font=\symfont\fs{11}, text=black!40, inner sep=0pt] at (1562pt,-12pt) {⇨⇩⇧};
\node[anchor=west, font=\symfont\fs{11}, text=black!40, inner sep=0pt] at (1570pt,-645pt) {⇧⇩};
\node[anchor=west, font=\symfont\fs{11}, text=black!40, inner sep=0pt] at (1582pt,-685pt) {⇧⊠};
\node[anchor=west, font=\bfseries\fs{10.5}, inner sep=0pt] at (8pt,-688pt) {Awesome Osc(34,5)};
\end{tikzpicture}
\end{document}
